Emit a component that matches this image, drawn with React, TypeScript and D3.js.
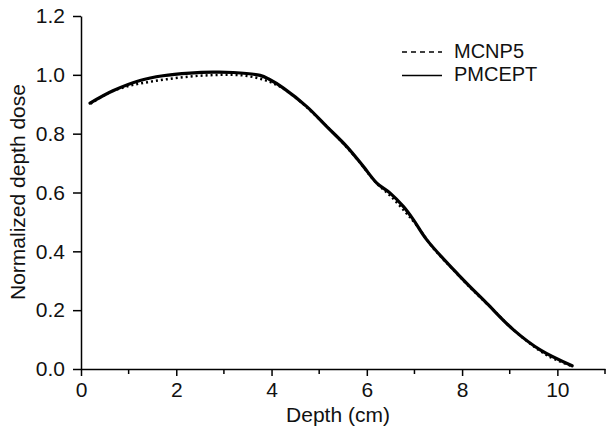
import * as d3 from "d3";
import { useEffect, useRef } from "react";

const WIDTH = 608;
const HEIGHT = 440;
const FONT = "'Liberation Sans', Arial, Helvetica, sans-serif";

// depth (cm) / normalized dose
const pmceptDepth = [0.19, 0.67, 1.24, 1.72, 2.29, 2.77, 3.19, 3.76, 3.95, 4.25, 4.74, 5.16, 5.58, 5.93, 6.21, 6.49, 6.77, 6.98, 7.26, 7.96, 8.52, 9.08, 9.64, 10.31];
const pmceptDose = [0.904, 0.946, 0.981, 0.997, 1.006, 1.009, 1.008, 0.998, 0.985, 0.955, 0.892, 0.824, 0.756, 0.688, 0.632, 0.598, 0.552, 0.507, 0.439, 0.314, 0.223, 0.133, 0.065, 0.011];

const mcnpDepth = [0.2, 0.6, 1.0, 1.4, 1.8, 2.2, 2.6, 3.0, 3.4, 3.8, 4.2, 4.6, 5.0, 5.4, 5.8, 6.2, 6.5, 6.8, 7.0, 7.4, 7.8, 8.2, 8.6, 9.0, 9.4, 9.8, 10.3];
const mcnpDose = [0.902, 0.94, 0.962, 0.975, 0.985, 0.993, 0.998, 1.0, 0.998, 0.985, 0.958, 0.91, 0.85, 0.785, 0.713, 0.632, 0.588, 0.535, 0.498, 0.41, 0.34, 0.272, 0.21, 0.145, 0.09, 0.045, 0.01];

const xMajorTicks = [0, 2, 4, 6, 8, 10];
const xMinorTicks = [1, 3, 5, 7, 9, 11];
const yTicks = [0, 0.2, 0.4, 0.6, 0.8, 1.0, 1.2];

const seriesNames = ["MCNP5", "PMCEPT"];

const App = () => {
  const svgRef = useRef(null);

  useEffect(() => {
    const svg = d3.select(svgRef.current);
    svg.selectAll("*").remove();

    const x = d3.scaleLinear().domain([0, 11]).range([81, 605]);
    const y = d3.scaleLinear().domain([0, 1.2]).range([369, 16]);

    // x axis: majors labelled, minors short
    const gx = svg.append("g").attr("transform", `translate(0, ${y(0)})`);
    gx.call(
      d3.axisBottom(x).tickValues(xMajorTicks).tickSize(7).tickPadding(6).tickSizeOuter(0)
    );
    gx.selectAll(".minor")
      .data(xMinorTicks)
      .enter()
      .append("line")
      .attr("class", "minor")
      .attr("x1", (d) => x(d))
      .attr("x2", (d) => x(d))
      .attr("y1", 0)
      .attr("y2", 5)
      .attr("stroke", "#000")
      .attr("stroke-width", 1.5);

    const gy = svg.append("g").attr("transform", `translate(${x(0)}, 0)`);
    gy.call(
      d3.axisLeft(y).tickValues(yTicks).tickFormat(d3.format(".1f")).tickSize(8).tickPadding(8).tickSizeOuter(0)
    );

    svg.selectAll(".domain").attr("stroke", "#000").attr("stroke-width", 1.5);
    svg.selectAll(".tick line").attr("stroke", "#000").attr("stroke-width", 1.5);
    svg
      .selectAll(".tick text")
      .attr("font-family", FONT)
      .attr("font-size", "21px")
      .attr("fill", "#111");

    // axis titles
    svg
      .append("text")
      .attr("x", (x(0) + x(11)) / 2 - 5)
      .attr("y", 422)
      .attr("text-anchor", "middle")
      .attr("font-family", FONT)
      .attr("font-size", "21px")
      .attr("fill", "#111")
      .text("Depth (cm)");

    svg
      .append("text")
      .attr("transform", "translate(25, 192) rotate(-90)")
      .attr("text-anchor", "middle")
      .attr("font-family", FONT)
      .attr("font-size", "21px")
      .attr("fill", "#111")
      .text("Normalized depth dose");

    const line = d3
      .line()
      .x((d) => x(d[0]))
      .y((d) => y(d[1]))
      .curve(d3.curveCatmullRom.alpha(0.5));

    const mcnp = mcnpDepth.map((d, i) => [d, mcnpDose[i]]);
    const pmcept = pmceptDepth.map((d, i) => [d, pmceptDose[i]]);

    svg
      .append("path")
      .datum(mcnp)
      .attr("d", line)
      .attr("fill", "none")
      .attr("stroke", "#000")
      .attr("stroke-width", 2.5)
      .attr("stroke-dasharray", "2,3");

    svg
      .append("path")
      .datum(pmcept)
      .attr("d", line)
      .attr("fill", "none")
      .attr("stroke", "#000")
      .attr("stroke-width", 3.2)
      .attr("stroke-linecap", "round");

    // legend
    const legend = svg.append("g");
    seriesNames.forEach((name, i) => {
      const ly = 52 + i * 23.5;
      legend
        .append("line")
        .attr("x1", 402)
        .attr("x2", 442)
        .attr("y1", ly)
        .attr("y2", ly)
        .attr("stroke", "#000")
        .attr("stroke-width", 1.5)
        .attr("stroke-dasharray", i === 0 ? "5,4" : null);
      legend
        .append("text")
        .attr("x", 454)
        .attr("y", ly + 5.5)
        .attr("font-family", FONT)
        .attr("font-size", "20px")
        .attr("fill", "#111")
        .text(name);
    });
  }, []);

  return (
    <svg
      ref={svgRef}
      width={WIDTH}
      height={HEIGHT}
      style={{ position: "absolute", left: 0, top: 0, background: "#fff" }}
    />
  );
};

export default App;
